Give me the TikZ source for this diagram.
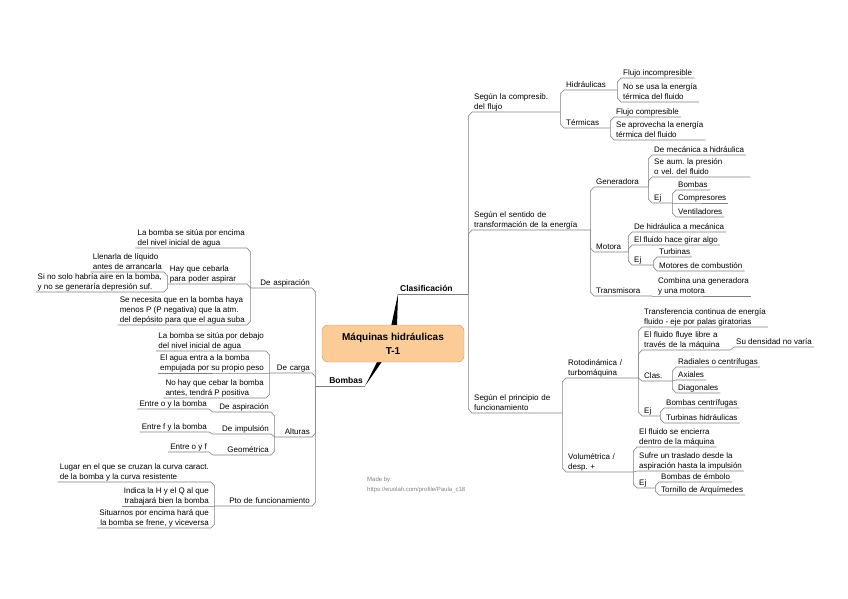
\documentclass[tikz,border=0pt]{standalone}
\usepackage{fontspec}
\setmainfont{Liberation Sans}
\usepackage{tikz}
\usetikzlibrary{calc, backgrounds}
\usepackage{xcolor}

\definecolor{peach}{RGB}{251,204,152}
\definecolor{peachline}{RGB}{196,150,105}
\definecolor{linegray}{RGB}{128,128,128}

\frenchspacing
% fixed depth under the last line of every label
\newcommand{\lowstrut}{\vrule width 0pt height 0pt depth 1.6pt}
% right side: parent underline end -> bevel -> child underline
\newcommand{\rlink}[2]{\draw[link] let \p1=(#1.south east), \p2=(#2.south west), \n1={max(-4pt,min(4pt,\y2-\y1))} in (\p1) -- (\x1,{\y2-\n1}) -- (\p2) -- (#2.south east);}
% left side: mirrored
\newcommand{\llink}[2]{\draw[link] let \p1=(#1.south west), \p2=(#2.south east), \n1={max(-4pt,min(4pt,\y2-\y1))} in (\p1) -- (\x1,{\y2-\n1}) -- (\p2) -- (#2.south west);}

\begin{document}
\begin{tikzpicture}[
        x=1pt, y=-1pt,
        root/.style={rectangle, draw=peachline, fill=peach, rounded corners=6pt, minimum width=142pt, minimum height=37pt, align=center, font=\fontsize{10}{14}\selectfont\bfseries},
        main/.style={inner xsep=2pt, inner ysep=1pt, font=\fontsize{8.5}{10}\selectfont\bfseries, execute at end node=\lowstrut},
        rt/.style={anchor=south west, align=left, inner xsep=2pt, inner ysep=1pt, font=\fontsize{8}{10}\selectfont, execute at end node=\lowstrut},
        lt/.style={rt, anchor=south east, align=right},
        link/.style={draw=linegray, line width=0.6pt},
        wedge/.style={fill=black}
    ]
        \useasboundingbox (0,0) rectangle (848,599);

        % Central topic
        \node[root] (root) at (393,343.5) {Máquinas hidráulicas\\T-1};
        \node[main, anchor=south west, text width=66pt, align=left] (clas) at (398,294) {Clasificación};
        \node[main, anchor=south east, text width=45pt, align=right] (bomb) at (365,386) {Bombas};
        \begin{scope}[on background layer]
            \fill[wedge] ($(root.north)+(-2,2)$) -- ($(root.north)+(4,2)$) -- (clas.south west) -- cycle;
            \fill[wedge] ($(root.south)+(-15,-2)$) -- ($(root.south)+(-10,-2)$) -- (bomb.south east) -- cycle;
        \end{scope}
        \draw[link] (clas.south west) -- (clas.south east);
        \draw[link] (bomb.south east) -- (bomb.south west);

        % Clasificacion: compresibilidad
        \node[rt, text width=84pt] (compres) at (472,112) {Según la compresib.\\del flujo};
        \node[rt, text width=49pt] (hidr) at (564,90) {Hidráulicas};
        \node[rt] (incomp) at (621,78) {Flujo incompresible};
        \node[rt] (noterm) at (621,102) {No se usa la energía\\térmica del fluido};
        \node[rt, text width=42pt] (term) at (564,128) {Térmicas};
        \node[rt] (comp) at (614,117) {Flujo compresible};
        \node[rt] (aprov) at (614,140) {Se aprovecha la energía\\térmica del fluido};
        \rlink{clas}{compres}
        \rlink{compres}{hidr}
        \rlink{hidr}{incomp}
        \rlink{hidr}{noterm}
        \rlink{compres}{term}
        \rlink{term}{comp}
        \rlink{term}{aprov}

        % Clasificacion: sentido de la energia
        \node[rt, text width=114pt] (sentido) at (472,230) {Según el sentido de\\transformación de la energía};
        \node[rt, text width=50pt] (gen) at (594,187) {Generadora};
        \node[rt] (mechid) at (652,155) {De mecánica a hidráulica};
        \node[rt, text width=94pt] (aum) at (652,177) {Se aum. la presión\\o vel. del fluido};
        \node[rt, text width=16pt] (ejgen) at (652,203) {Ej};
        \node[rt] (bombs) at (676,190) {Bombas};
        \node[rt] (compresor) at (676,203) {Compresores};
        \node[rt] (ventil) at (676,217) {Ventiladores};
        \node[rt, text width=30pt] (mot) at (594,252) {Motora};
        \node[rt] (hidmec) at (632,232) {De hidráulica a mecánica};
        \node[rt] (gira) at (632,245) {El fluido hace girar algo};
        \node[rt, text width=17pt] (ejmot) at (632,265) {Ej};
        \node[rt] (turb) at (657,257) {Turbinas};
        \node[rt] (motcomb) at (657,271) {Motores de combustión};
        \node[rt, text width=54pt] (trans) at (594,296) {Transmisora};
        \node[rt] (combina) at (656,296) {Combina una generadora\\y una motora};
        \rlink{clas}{sentido}
        \rlink{sentido}{gen}
        \rlink{gen}{mechid}
        \rlink{gen}{aum}
        \rlink{gen}{ejgen}
        \rlink{ejgen}{bombs}
        \rlink{ejgen}{compresor}
        \rlink{ejgen}{ventil}
        \rlink{sentido}{mot}
        \rlink{mot}{hidmec}
        \rlink{mot}{gira}
        \rlink{mot}{ejmot}
        \rlink{ejmot}{turb}
        \rlink{ejmot}{motcomb}
        \rlink{sentido}{trans}
        \rlink{trans}{combina}

        % Clasificacion: principio de funcionamiento
        \node[rt, text width=86pt] (princ) at (472,413) {Según el principio de\\funcionamiento};
        \node[rt, text width=68pt] (roto) at (566,378) {Rotodinámica /\\turbomáquina};
        \node[rt] (transf) at (642,327) {Transferencia continua de energía\\fluido - eje por palas giratorias};
        \node[rt, text width=84pt] (libre) at (642,350) {El fluido fluye libre a\\través de la máquina};
        \node[rt] (dens) at (734,347) {Su densidad no varía};
        \node[rt, text width=26pt] (clasr) at (642,381) {Clas.};
        \node[rt] (radial) at (676,367) {Radiales o centrífugas};
        \node[rt] (axial) at (676,380) {Axiales};
        \node[rt] (diag) at (676,393) {Diagonales};
        \node[rt, text width=14pt] (ejroto) at (642,416) {Ej};
        \node[rt] (bcent) at (664,408) {Bombas centrífugas};
        \node[rt] (thid) at (664,423) {Turbinas hidráulicas};
        \node[rt, text width=63pt] (vol) at (566,472) {Volumétrica /\\desp. +};
        \node[rt] (encierra) at (637,447) {El fluido se encierra\\dentro de la máquina};
        \node[rt] (traslado) at (637,471) {Sufre un traslado desde la\\aspiración hasta la impulsión};
        \node[rt, text width=14pt] (ejvol) at (637,488) {Ej};
        \node[rt] (embolo) at (659,482) {Bombas de émbolo};
        \node[rt] (tornillo) at (659,495) {Tornillo de Arquímedes};
        \rlink{clas}{princ}
        \rlink{princ}{roto}
        \rlink{roto}{transf}
        \rlink{roto}{libre}
        \rlink{libre}{dens}
        \rlink{roto}{clasr}
        \rlink{clasr}{radial}
        \rlink{clasr}{axial}
        \rlink{clasr}{diag}
        \rlink{roto}{ejroto}
        \rlink{ejroto}{bcent}
        \rlink{ejroto}{thid}
        \rlink{princ}{vol}
        \rlink{vol}{encierra}
        \rlink{vol}{traslado}
        \rlink{vol}{ejvol}
        \rlink{ejvol}{embolo}
        \rlink{ejvol}{tornillo}

        % Bombas: de aspiracion
        \node[lt, text width=57pt] (asp) at (312,288) {De aspiración};
        \node[lt, align=left] (encima) at (247,248) {La bomba se sitúa por encima\\del nivel inicial de agua};
        \node[lt, text width=75pt, align=left] (cebar) at (247,284) {Hay que cebarla\\para poder aspirar};
        \node[lt, align=left] (llenar) at (164,272) {Llenarla de líquido\\antes de arrancarla};
        \node[lt, align=left] (sino) at (164,292) {Si no solo habría aire en la bomba,\\y no se generaría depresión suf.};
        \node[lt, align=left] (necesita) at (247,325) {Se necesita que en la bomba haya\\menos P (P negativa) que la atm.\\del depósito para que el agua suba};
        \llink{bomb}{asp}
        \llink{asp}{encima}
        \llink{asp}{cebar}
        \llink{cebar}{llenar}
        \llink{cebar}{sino}
        \llink{asp}{necesita}

        % Bombas: de carga
        \node[lt, text width=38pt] (carga) at (312,373) {De carga};
        \node[lt, align=left] (debajo) at (266,351) {La bomba se sitúa por debajo\\del nivel inicial de agua};
        \node[lt, align=left] (empuj) at (266,373) {El agua entra a la bomba\\empujada por su propio peso};
        \node[lt, align=left] (nocebar) at (266,398) {No hay que cebar la bomba\\antes, tendrá P positiva};
        \llink{bomb}{carga}
        \llink{carga}{debajo}
        \llink{carga}{empuj}
        \llink{carga}{nocebar}

        % Bombas: alturas
        \node[lt, text width=33pt] (alt) at (312,437) {Alturas};
        \node[lt, text width=54pt] (asp2) at (271,412) {De aspiración};
        \node[lt] (e1) at (209,409) {Entre o y la bomba};
        \node[lt, text width=54pt] (imp) at (271,434) {De impulsión};
        \node[lt] (e2) at (209,432) {Entre f y la bomba};
        \node[lt, text width=54pt] (geo) at (271,455) {Geométrica};
        \node[lt] (e3) at (209,452) {Entre o y f};
        \llink{bomb}{alt}
        \llink{alt}{asp2}
        \llink{asp2}{e1}
        \llink{alt}{imp}
        \llink{imp}{e2}
        \llink{alt}{geo}
        \llink{geo}{e3}

        % Bombas: punto de funcionamiento
        \node[lt, text width=93pt] (pto) at (312,506) {Pto de funcionamiento};
        \node[lt, align=left] (lugar) at (211,482) {Lugar en el que se cruzan la curva caract.\\de la bomba y la curva resistente};
        \node[lt] (indica) at (211,506) {Indica la H y el Q al que\\trabajará bien la bomba};
        \node[lt] (situar) at (211,528) {Situarnos por encima hará que\\la bomba se frene, y viceversa};
        \llink{bomb}{pto}
        \llink{pto}{lugar}
        \llink{pto}{indica}
        \llink{pto}{situar}

        % Credit
        \node[anchor=north west, align=left, inner sep=1pt, text=gray, font=\fontsize{6}{10}\selectfont] (madeby) at (366,476) {Made by:\\https://wuolah.com/profile/Paula\_c18};
    \end{tikzpicture}
\end{document}
